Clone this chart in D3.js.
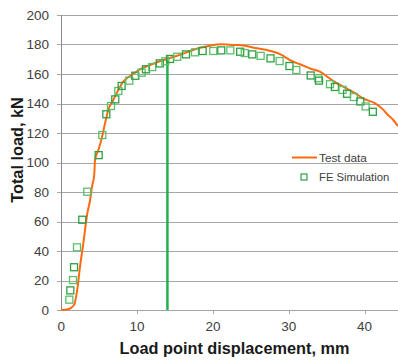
<!DOCTYPE html>
<html><head><meta charset="utf-8">
<script src="https://cdn.jsdelivr.net/npm/d3@7"></script>
<style>body{margin:0;background:#fff}svg{display:block}</style>
</head><body>
<script>
const testX = [0,0.9,1.68,2.1,2.47,2.9,3.43,3.8,4.05,4.35,4.45,4.97,5.33,5.77,6.2,6.86,7.52,8.18,9.29,10.38,11.7,13.46,15.2,17,18.3,19.6,21.2,22.7,24.2,25.8,27.1,28.85,30.4,31.5,32.9,34.1,35.7,37.2,38.8,39.8,41.4,42.4,43.1,43.8,44.4];
const testY = [0,0.5,3.4,13.6,29.4,45,65.5,74.6,83.6,92,101.7,109.6,116.4,126.6,135.6,142.4,149.2,154.8,159.3,163.2,166.1,169.5,172.2,175.6,177.8,179.2,180.1,179.7,179.2,177.4,176.3,173.5,168.8,166.6,163.6,161.6,155.9,151.4,146.9,143.5,140.1,136.2,132.2,128.8,124.7];
const feX = [1.06,1.19,1.54,1.68,2.07,2.77,3.43,4.93,5.41,5.94,6.56,7.12,7.52,7.96,8.97,9.76,10.6,11.17,12.0,13.0,13.72,14.34,15.3,16.45,17.64,18.65,20.05,21.1,22.3,23.6,24.2,25.2,26.3,27.6,28.8,30.1,31.0,32.9,33.9,34.0,35.45,36.1,37.1,37.7,38.6,39.45,40.15,41.1];
const feY = [7,13.3,20.3,29,42.5,61.2,80.2,105,118.6,132.7,138.3,142.8,148.5,151.9,155.5,158.8,160.9,163.2,164.7,167.2,168.6,170.2,171.7,173.3,174.7,175.6,175.6,176,176,175.1,174.2,173.3,172.3,170.6,168.8,165.4,162.7,159,157.1,155.5,153.1,151.2,149.2,146.6,144.4,141.4,138,134.4];
const markerX = 14, markerTop = 172;
const yTicks = [0,20,40,60,80,100,120,140,160,180,200];
const xTicks = [0,10,20,30,40];
const seriesNames = ["Test data","FE Simulation"];
const xTitle = "Load point displacement, mm", yTitle = "Total load, kN";

const W = 398, H = 362;
const svg = d3.select("body").append("svg").attr("width", W).attr("height", H);
const x = d3.scaleLinear().domain([0,45]).range([61.3, 61.3 + 45*7.58]);
const y = d3.scaleLinear().domain([0,200]).range([310, 15]);

// gridlines
svg.append("g").selectAll("line").data(yTicks.filter(d=>d>0)).join("line")
  .attr("x1", 57).attr("x2", W).attr("y1", d=>Math.round(y(d))+0.5).attr("y2", d=>Math.round(y(d))+0.5)
  .attr("stroke", "#a6a6a6").attr("stroke-width", 1);
// axes lines
svg.append("line").attr("x1", 61.5).attr("x2", 61.5).attr("y1", y(200)).attr("y2", 310.5).attr("stroke", "#8c8c8c");
svg.append("line").attr("x1", 57).attr("x2", W).attr("y1", 310.5).attr("y2", 310.5).attr("stroke", "#a6a6a6");
svg.append("g").selectAll("line").data(xTicks.filter(d=>d>0)).join("line")
  .attr("x1", d=>Math.round(x(d))+0.5).attr("x2", d=>Math.round(x(d))+0.5).attr("y1", 310).attr("y2", 314)
  .attr("stroke", "#a6a6a6");

// tick labels
svg.append("g").selectAll("text").data(yTicks).join("text")
  .attr("x", 49).attr("y", d=>y(d)).attr("dy", "0.35em").attr("text-anchor", "end")
  .attr("font-family", "Liberation Sans, Arial, sans-serif").attr("font-size", 13.5).attr("fill", "#404040")
  .text(d=>d);
svg.append("g").selectAll("text").data(xTicks).join("text")
  .attr("x", d=>x(d)).attr("y", 331).attr("text-anchor", "middle")
  .attr("font-family", "Liberation Sans, Arial, sans-serif").attr("font-size", 13.5).attr("fill", "#404040")
  .text(d=>d);

// titles
svg.append("text").attr("x", 234.5).attr("y", 354).attr("text-anchor", "middle")
  .attr("font-family", "Liberation Sans, Arial, sans-serif").attr("font-size", 16.3).attr("font-weight", "bold").attr("fill", "#1a1a1a")
  .text(xTitle);
svg.append("text").attr("transform", "translate(23,150) rotate(-90)").attr("text-anchor", "middle")
  .attr("font-family", "Liberation Sans, Arial, sans-serif").attr("font-size", 16.3).attr("font-weight", "bold").attr("fill", "#1a1a1a")
  .text(yTitle);

// marker vertical line
svg.append("line").attr("x1", x(markerX)).attr("x2", x(markerX)).attr("y1", y(0)).attr("y2", y(markerTop))
  .attr("stroke", "#22b14c").attr("stroke-width", 2.5);

// test data line
const testData = testX.map((v,i)=>[v, testY[i]]);
svg.append("path").datum(testData)
  .attr("d", d3.line().x(d=>x(d[0])).y(d=>y(d[1])).curve(d3.curveMonotoneX))
  .attr("fill", "none").attr("stroke", "#ff6a10").attr("stroke-width", 2);

// FE squares
const s = 7;
svg.append("g").selectAll("rect").data(feX.map((v,i)=>[v, feY[i]])).join("rect")
  .attr("x", d=>x(d[0])-s/2).attr("y", d=>y(d[1])-s/2).attr("width", s).attr("height", s)
  .attr("fill", "none").attr("stroke", (d,i)=> i%2 ? "#2ea043" : "#5cbf6a").attr("stroke-width", 1.3);

// legend
svg.append("line").attr("x1", 292).attr("x2", 317).attr("y1", 157.5).attr("y2", 157.5)
  .attr("stroke", "#ff6a10").attr("stroke-width", 2);
svg.append("text").attr("x", 319).attr("y", 161.5).attr("font-family", "Liberation Sans, Arial, sans-serif")
  .attr("font-size", 11.8).attr("fill", "#404040").text(seriesNames[0]);
svg.append("rect").attr("x", 301).attr("y", 174).attr("width", 6).attr("height", 6)
  .attr("fill", "none").attr("stroke", "#2ea043").attr("stroke-width", 1.2);
svg.append("text").attr("x", 319).attr("y", 181).attr("font-family", "Liberation Sans, Arial, sans-serif")
  .attr("font-size", 11.3).attr("fill", "#404040").text(seriesNames[1]);
</script>
</body></html>
